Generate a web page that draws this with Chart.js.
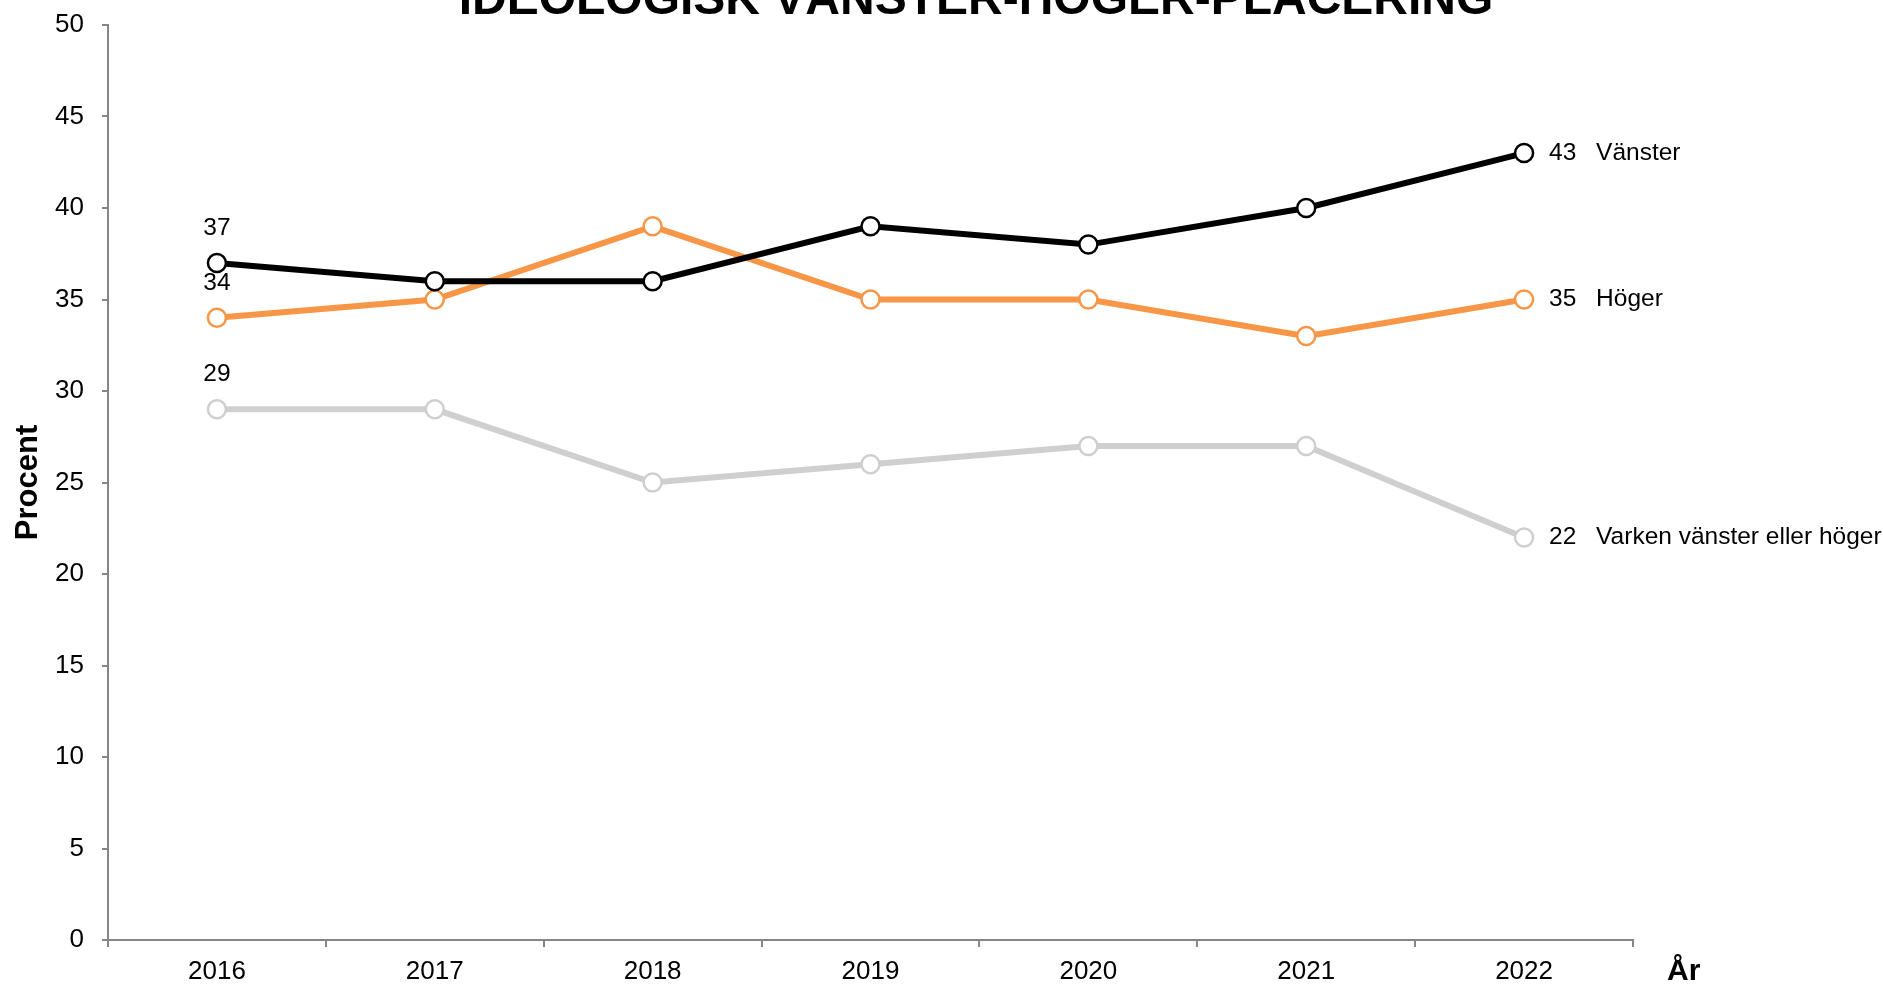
<!DOCTYPE html>
<html>
<head>
<meta charset="utf-8">
<script src="https://cdn.jsdelivr.net/npm/chart.js@4"></script>
<style>
  html, body { margin: 0; padding: 0; background: #fff; }
  #wrap { width: 1883px; height: 984px; }
</style>
</head>
<body>
<div id="wrap"><canvas id="graf"></canvas></div>
<script>
const titel = "IDEOLOGISK VÄNSTER-HÖGER-PLACERING";
const ar = ["2016", "2017", "2018", "2019", "2020", "2021", "2022"];
const serieNamn = ["Vänster", "Höger", "Varken vänster eller höger"];
const vanster = [37, 36, 36, 39, 38, 40, 43];
const hoger = [34, 35, 39, 35, 35, 33, 35];
const varken = [29, 29, 25, 26, 27, 27, 22];
const farger = ["#000000", "#F79646", "#CFCFCF"];

const FONT = "'Liberation Sans', Arial, sans-serif";

// egna etiketter: titel, "År", värden vid första och sista punkten
const etiketter = {
  id: "etiketter",
  afterDraw(chart) {
    const ctx = chart.ctx;
    const x = chart.scales.x, y = chart.scales.y;
    ctx.save();
    ctx.fillStyle = "#000";
    ctx.font = "bold 48px " + FONT;
    ctx.textAlign = "center";
    ctx.textBaseline = "alphabetic";
    ctx.fillText(titel, 976, 14);

    ctx.font = "bold 30px " + FONT;
    ctx.textAlign = "left";
    ctx.textBaseline = "middle";
    ctx.fillText("År", 1667, 972);

    ctx.font = "24.5px " + FONT;
    chart.data.datasets.forEach((ds, i) => {
      const sista = ds.data.length - 1;
      const px = x.getPixelForValue(sista);
      const py = y.getPixelForValue(ds.data[sista]);
      ctx.textAlign = "left";
      ctx.fillText(String(ds.data[sista]), px + 25, py);
      ctx.fillText(ds.label, px + 72, py);

      const fx = x.getPixelForValue(0);
      const fy = y.getPixelForValue(ds.data[0]);
      ctx.textAlign = "center";
      ctx.fillText(String(ds.data[0]), fx, fy - 35);
    });
    ctx.restore();
  }
};

function serie(namn, data, farg) {
  return {
    label: namn,
    data: data,
    borderColor: farg,
    borderWidth: 6,
    pointRadius: 9,
    pointHoverRadius: 9,
    pointBackgroundColor: "#ffffff",
    pointBorderColor: farg,
    pointBorderWidth: 2.5,
    tension: 0
  };
}

new Chart(document.getElementById("graf").getContext("2d"), {
  type: "line",
  data: {
    labels: ar,
    datasets: [
      serie(serieNamn[0], vanster, farger[0]),
      serie(serieNamn[1], hoger, farger[1]),
      serie(serieNamn[2], varken, farger[2])
    ]
  },
  options: {
    responsive: true,
    maintainAspectRatio: false,
    animation: false,
    layout: { padding: { top: 25, right: 250, left: 0, bottom: 0 } },
    plugins: {
      legend: { display: false },
      tooltip: { enabled: false },
      title: { display: false }
    },
    scales: {
      x: {
        offset: true,
        grid: { offset: true, drawOnChartArea: false, drawTicks: true, tickLength: 7, color: "#868686", lineWidth: 2 },
        border: { color: "#868686", width: 2 },
        ticks: { color: "#000", font: { family: FONT, size: 26 }, padding: 9 },
        afterFit(s) { s.height = 44; s.paddingLeft = 0; s.paddingRight = 0; }
      },
      y: {
        min: 0,
        max: 50,
        grid: { drawOnChartArea: false, drawTicks: true, tickLength: 6, color: "#868686", lineWidth: 2 },
        border: { color: "#868686", width: 2 },
        ticks: { stepSize: 5, color: "#000", font: { family: FONT, size: 26 }, padding: 18 },
        title: { display: true, text: "Procent", color: "#000", font: { family: FONT, size: 31, weight: "bold" }, padding: { top: 10, bottom: 0 } },
        afterFit(s) { s.width = 108; s.paddingTop = 0; s.paddingBottom = 0; }
      }
    }
  },
  plugins: [etiketter]
});
</script>
</body>
</html>
